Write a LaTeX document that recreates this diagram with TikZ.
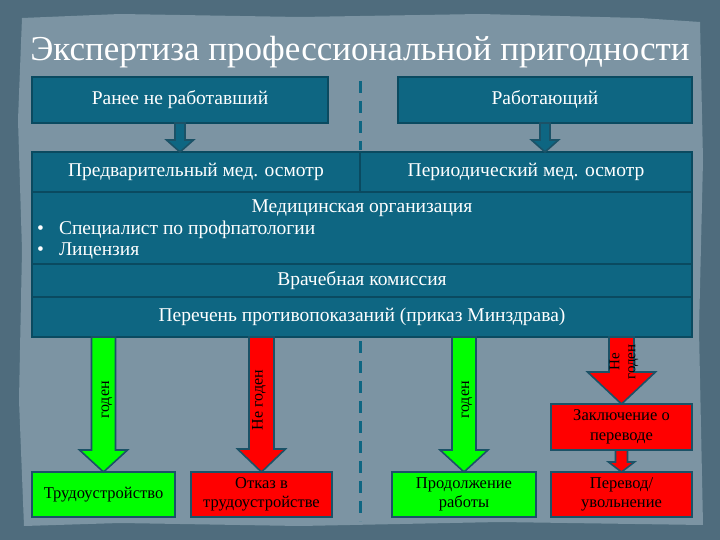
\documentclass[tikz,border=0pt]{standalone}
\usepackage{fontspec}
\setmainfont{Liberation Serif}
\usetikzlibrary{calc}
\definecolor{outerbg}{HTML}{4F6C7D}
\definecolor{paper}{HTML}{7C94A3}
\definecolor{boxblue}{HTML}{0E6682}
\definecolor{boxedge}{HTML}{0A4A60}
\definecolor{arredge}{HTML}{1B5267}
\definecolor{okgreen}{HTML}{00FF00}
\definecolor{nored}{HTML}{FF0000}
\tikzset{
  x=1pt,y=-1pt,
  bluebox/.style={draw=boxedge,fill=boxblue,line width=1.5pt,text=white,font=\fontsize{19.5}{22}\selectfont,inner sep=0pt,outer sep=0pt},
  bluetext/.style={text=white,font=\fontsize{19.5}{22}\selectfont,inner sep=0pt},
  resbox/.style={draw=arredge,line width=2pt,text=black,font=\fontsize{16.5}{19.5}\selectfont,align=center,inner sep=0pt,outer sep=0pt,minimum height=45pt},
  arrlabel/.style={rotate=90,text=black,font=\fontsize{16}{16}\selectfont,align=center},
  divline/.style={draw=boxblue,line width=3pt,dash pattern=on 12pt off 8pt},
}
% #1 start coordinate, #2 end coordinate, #3 half stem, #4 half head, #5 head length, #6 fill colour
\newcommand\blockarr[6]{%
  \filldraw[fill=#6,draw=arredge,line width=1.6pt,line join=miter]
    let \p1=(#1), \p2=(#2) in
    (\x1-#3pt,\y1) -- (\x1+#3pt,\y1) -- (\x1+#3pt,\y2+#5pt) -- (\x1+#4pt,\y2+#5pt)
    -- (\x1,\y2) -- (\x1-#4pt,\y2+#5pt) -- (\x1-#3pt,\y2+#5pt) -- cycle;}
\begin{document}
\begin{tikzpicture}
\useasboundingbox (0,0) rectangle (720,540);
\fill[outerbg] (0,0) rectangle (720,540);
\fill[paper] (22,18) -- (120,14) -- (300,17) -- (480,14) -- (640,18) -- (700,22)
  -- (703,160) -- (699,330) -- (703,525) -- (500,522) -- (300,526) -- (120,523) -- (24,526)
  -- (19,400) -- (22,250) -- (18,120) -- cycle;

% title
\node[anchor=base,text=white,font=\fontsize{35}{40}\selectfont,inner sep=0pt] (title) at (360,61) {Экспертиза профессиональной пригодности};

% top boxes
\node[bluebox,minimum width=296pt,minimum height=46pt] (top1) at (180,100) {Ранее не работавший};
\node[bluebox,minimum width=294pt,minimum height=46pt] (top2) at (545,100) {Работающий};

% rows
\node[bluebox,minimum width=328pt,minimum height=40pt] (pred) at (196,172) {Предварительный мед. осмотр};
\node[bluebox,minimum width=332pt,minimum height=40pt] (peri) at (526,172) {Периодический мед. осмотр};
\node[bluebox,minimum width=660pt,minimum height=72pt] (org) at (362,228) {};
\node[bluetext,anchor=base] (orgt) at (362,212) {Медицинская организация};
\node[bluetext,anchor=base west] (b1) at (37,235) {•\hspace{15pt}Специалист по профпатологии};
\node[bluetext,anchor=base west] (b2) at (37,255) {•\hspace{15pt}Лицензия};
\node[bluebox,minimum width=660pt,minimum height=33pt] (vk) at (362,280.5) {Врачебная комиссия};
\node[bluebox,minimum width=660pt,minimum height=40pt] (per) at (362,317) {Перечень противопоказаний (приказ Минздрава)};

% dashed divider
\coordinate (d1) at (360,81);
\coordinate (d2) at (360,150);
\coordinate (d3) at (360,341);
\coordinate (d4) at (360,521);
\draw[divline] (d1) -- (d2);
\draw[divline] (d3) -- (d4);

% small arrows
\blockarr{top1.south}{top1.south |- pred.north}{5}{13.5}{12}{boxblue}
\blockarr{top2.south}{top2.south |- peri.north}{5}{13.5}{12}{boxblue}

% result boxes
\node[resbox,fill=okgreen,minimum width=143pt] (trud) at (103.5,494.5) {Трудоустройство};
\node[resbox,fill=nored,minimum width=141pt] (otk) at (261.5,494.5) {Отказ в\\трудоустройстве};
\node[resbox,fill=okgreen,minimum width=144pt] (prod) at (464,494.5) {Продолжение\\работы};
\node[resbox,fill=nored,minimum width=141pt,minimum height=46pt] (zakl) at (621.5,427) {Заключение о\\переводе};
\node[resbox,fill=nored,minimum width=141pt] (perev) at (621.5,494.5) {Перевод/\\увольнение};

% big arrows
\blockarr{trud.north |- per.south}{trud.north}{12}{24}{22}{okgreen}
\blockarr{otk.north |- per.south}{otk.north}{12.5}{24}{23}{nored}
\blockarr{prod.north |- per.south}{prod.north}{12}{24}{22}{okgreen}
\blockarr{zakl.north |- per.south}{zakl.north}{12.5}{34}{32}{nored}
\blockarr{zakl.south}{perev.north}{6}{13}{10}{nored}

% arrow labels
\node[arrlabel] (l1) at (107,400) {годен};
\node[arrlabel] (l2) at (259,400) {Не годен};
\node[arrlabel] (l3) at (467,400) {годен};
\node[arrlabel,font=\fontsize{15}{16}\selectfont] (l4) at (624,362) {Не\\годен};
\end{tikzpicture}
\end{document}
